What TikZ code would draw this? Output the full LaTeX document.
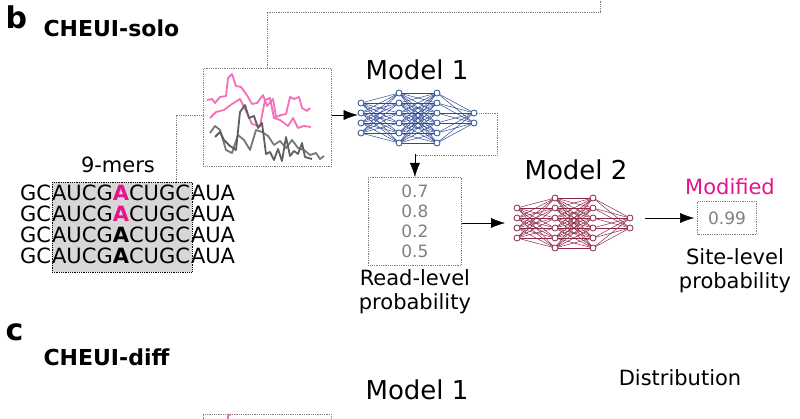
\documentclass[tikz,border=0pt]{standalone}
\usepackage{fontspec}
\setmainfont{DejaVu Sans}
\usetikzlibrary{arrows.meta}
\definecolor{netblue}{RGB}{45,75,150}
\definecolor{netred}{RGB}{140,40,70}
\definecolor{modpink}{RGB}{230,20,140}
\definecolor{tracepink}{RGB}{245,110,185}
\definecolor{tracegray}{RGB}{95,95,95}
\definecolor{boxgray}{RGB}{215,215,215}
\tikzset{
    link/.style={densely dotted, gray, thick},
    flow/.style={-{Latex[length=14pt,width=10pt]}, black},
    valbox/.style={draw=gray, densely dotted, thick},
    big/.style={font=\fontsize{26}{28}\selectfont},
    mid/.style={font=\fontsize{21}{24}\selectfont},
    trace/.style={line width=1.8pt, line join=round},
    neuron/.style={circle, draw, fill=white, inner sep=0pt, minimum size=6pt, thick}
}
% small net: layers of 4, 6, 6 and 2 nodes
\newcommand{\drawnet}[4]{%
  % #1 name, #2 x, #3 y centre, #4 colour
  \foreach \i in {1,...,4} \coordinate (#1-a\i) at (#2, #3-15+\i*10-5);
  \foreach \i in {1,...,6} \coordinate (#1-b\i) at (#2+38, #3-25+\i*10-5);
  \foreach \i in {1,...,6} \coordinate (#1-c\i) at (#2+76, #3-25+\i*10-5);
  \foreach \i in {1,2} \coordinate (#1-d\i) at (#2+113, #3-5+\i*10-5);
  \foreach \i in {1,...,4} \foreach \j in {1,...,6} \draw[#4, line width=0.5pt] (#1-a\i) -- (#1-b\j);
  \foreach \i in {1,...,6} \foreach \j in {1,...,6} \draw[#4, line width=0.5pt] (#1-b\i) -- (#1-c\j);
  \foreach \i in {1,...,6} \foreach \j in {1,2} \draw[#4, line width=0.5pt] (#1-c\i) -- (#1-d\j);
  \foreach \l/\n in {a/4,b/6,c/6,d/2} \foreach \i in {1,...,\n}
    \node[neuron, draw=#4] (#1-\l\i n) at (#1-\l\i) {};
}
\begin{document}
\begin{tikzpicture}[x=1pt, y=-1pt]
\useasboundingbox (0,0) rectangle (800,419);

% Headings
\node[anchor=north west, font=\fontsize{30}{30}\selectfont\bfseries] (lb) at (2,2) {b};
\node[anchor=west, font=\fontsize{22}{24}\selectfont\bfseries] (solo) at (40,28) {CHEUI-solo};
\node[anchor=north west, font=\fontsize{30}{30}\selectfont\bfseries] (lc) at (2,320) {c};
\node[anchor=west, font=\fontsize{22}{24}\selectfont\bfseries] (diff) at (40,357) {CHEUI-diff};

% 9-mers
\fill[boxgray] (52,182) rectangle (192,272);
\draw[densely dotted, thick] (52,182) rectangle (192,272);
\node[mid, anchor=south] (kmer) at (118,176) {9-mers};
\foreach \r/\yy/\c in {1/201/modpink, 2/222/modpink, 3/243/black, 4/264/black}
  \node[mid, anchor=base west, inner sep=0pt] (seq\r) at (20,\yy)
    {GC\kern1ptAUCG{\bfseries\color{\c}A}CUGC\kern1ptAUA};

% Signal box
\node[draw=gray, densely dotted, thick, minimum width=128pt, minimum height=98pt,
  anchor=north west, inner sep=0pt] (sig) at (203,68) {};
\draw[tracepink, trace] (207,100) -- (212,99) -- (215,103) -- (220,97) -- (226,96) -- (228,78)
  -- (232,74) -- (236,86) -- (241,87) -- (244,91) -- (248,97) -- (252,104) -- (257,103)
  -- (263,95) -- (267,106) -- (273,99) -- (276,117) -- (281,115) -- (286,114) -- (290,97)
  -- (294,99) -- (299,97) -- (302,108) -- (307,111) -- (310,108);
\draw[tracepink, trace] (210,118) -- (216,112) -- (224,110) -- (232,104) -- (240,99)
  -- (246,111) -- (252,124) -- (260,126) -- (265,100) -- (270,98) -- (274,118)
  -- (280,120) -- (288,126) -- (293,118) -- (298,128) -- (304,126) -- (311,127);
\draw[tracegray, trace] (215,137) -- (220,132) -- (224,140) -- (230,146) -- (236,150)
  -- (240,112) -- (245,105) -- (249,118) -- (254,116) -- (258,128) -- (262,123)
  -- (266,154) -- (270,152) -- (274,160) -- (278,149) -- (282,161) -- (286,137)
  -- (290,156) -- (294,151) -- (298,154) -- (302,143) -- (305,157) -- (312,159);
\draw[tracegray, trace, opacity=0.85] (210,133) -- (215,126) -- (220,130) -- (226,150) -- (232,153)
  -- (238,135) -- (244,140) -- (250,150) -- (256,130) -- (262,132) -- (268,136)
  -- (274,145) -- (280,141) -- (286,148) -- (292,140) -- (298,148) -- (304,150)
  -- (310,155) -- (316,153) -- (320,159) -- (324,156);

% top link
\coordinate (topA) at (267,12);
\coordinate (topB) at (600,12);
\coordinate (topC) at (600,0);
\draw[link] (sig.north -| topA) -- (topA) -- (topB) -- (topC);
\coordinate (kin) at (176,115);
\coordinate (kbox) at (176,182);
\draw[link] (kbox) -- (kin) -- (sig.west |- kin);

% Model 1
\node[big] (m1) at (417,70) {Model 1};
\drawnet{na}{361}{113}{netblue}
\draw[flow] (sig.east |- kin) -- (na-a2n.west |- kin);

% read-level
\node[valbox, minimum width=93pt, minimum height=88pt, anchor=north west, inner sep=0pt,
  text=gray, align=center, font=\fontsize{17}{20}\selectfont] (read) at (368,177)
  {0.7\\0.8\\0.2\\0.5};
\node[mid, align=center, anchor=north] (readl) at (read.south) {Read-level\\probability};
\coordinate (r1) at (497,113);
\coordinate (r2) at (497,155);
\draw[link] (na-d1n.east |- r1) -- (r1) -- (r2) -- (r2 -| read.north);
\draw[flow] (r2 -| read.north) ++(0,-1) -- (read.north);

% Model 2
\node[big] (m2) at (576,170) {Model 2};
\drawnet{nb}{517}{218}{netred}
\draw[flow] (read.east |- nb-a2) ++(0,5) -- (505,223);

% site-level
\node[valbox, minimum width=59pt, minimum height=33pt, text=gray,
  font=\fontsize{17}{20}\selectfont] (site) at (727,218) {0.99};
\node[anchor=south, text=modpink, font=\fontsize{21}{24}\selectfont] (mod) at (730,198) {Modified};
\node[mid, align=center, anchor=north] (sitel) at (735,245) {Site-level\\probability};
\draw[flow] (645,218) -- ([xshift=-3pt]site.west);

% CHEUI-diff (cut)
\node[big] (m1c) at (417,390) {Model 1};
\node[mid] (dist) at (680,378) {Distribution};
\draw[link] (203,430) -- (203,414) -- (331,414) -- (331,430);
\draw[tracepink, trace] (228,430) -- (228,416) -- (231,414);
\end{tikzpicture}
\end{document}
